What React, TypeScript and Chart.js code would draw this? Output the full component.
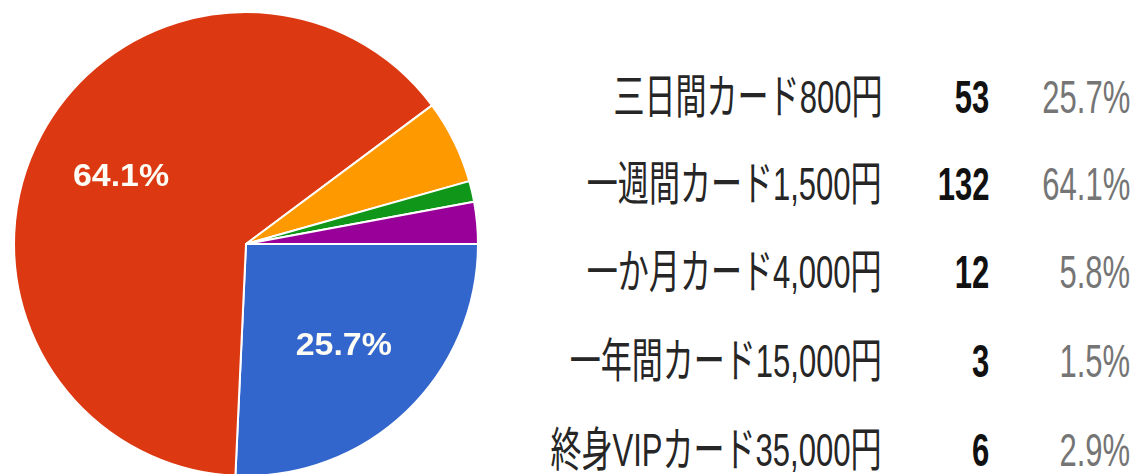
import React, { useEffect, useRef } from "react";
import { Chart, registerables } from "chart.js";

Chart.register(...registerables);

const LABELS = [
  "三日間カード800円",
  "一週間カード1,500円",
  "一か月カード4,000円",
  "一年間カード15,000円",
  "終身VIPカード35,000円",
];
const COUNTS = [53, 132, 12, 3, 6];
const PERCENT_LABELS = ["25.7%", "64.1%", "5.8%", "1.5%", "2.9%"];
const COLORS = ["#3366CC", "#DC3912", "#FF9900", "#109618", "#990099"];

const ROW_CENTERS = [97, 184, 272, 361, 450];

const sliceLabelPlugin = {
  id: "sliceLabels",
  afterDatasetsDraw(chart: any) {
    const ctx = chart.ctx;
    const meta = chart.getDatasetMeta(0);
    meta.data.forEach((arc: any, i: number) => {
      const p = parseFloat(PERCENT_LABELS[i]);
      if (p < 10) return;
      const mid = (arc.startAngle + arc.endAngle) / 2;
      const r = arc.outerRadius * 0.61;
      ctx.save();
      ctx.translate(arc.x + Math.cos(mid) * r, arc.y + Math.sin(mid) * r);
      ctx.scale(1.06, 1);
      ctx.fillStyle = "#fdfdf5";
      ctx.font = 'bold 32px "Liberation Sans", Arial, sans-serif';
      ctx.textAlign = "center";
      ctx.textBaseline = "middle";
      ctx.fillText(PERCENT_LABELS[i], 0, 0);
      ctx.restore();
    });
  },
};

export default function App() {
  const canvasRef = useRef<HTMLCanvasElement | null>(null);

  useEffect(() => {
    document.body.style.margin = "0";
    document.body.style.overflow = "hidden";
    const canvas = canvasRef.current;
    if (!canvas) return;
    const chart = new Chart(canvas, {
      type: "pie",
      data: {
        labels: LABELS,
        datasets: [
          {
            data: COUNTS,
            backgroundColor: COLORS,
            borderColor: "#ffffff",
            borderWidth: 2,
          },
        ],
      },
      options: {
        responsive: false,
        animation: false,
        rotation: 90,
        layout: { padding: { left: 13, right: 13, top: 11, bottom: 15 } },
        plugins: {
          legend: { display: false },
          tooltip: { enabled: false },
        },
      },
      plugins: [sliceLabelPlugin],
    });
    return () => chart.destroy();
  }, []);

  const font = '"Liberation Sans", Arial, "Noto Sans CJK JP", sans-serif';
  const cell = (text: string, right: number, top: number, style: React.CSSProperties) => (
    <span
      style={{
        position: "absolute",
        right: 1142 - right,
        top,
        height: 56,
        lineHeight: "56px",
        fontSize: 47,
        fontFamily: font,
        whiteSpace: "nowrap",
        transform: "scaleX(0.66)",
        transformOrigin: "right center",
        ...style,
      }}
    >
      {text}
    </span>
  );

  return (
    <div style={{ position: "relative", width: 1142, height: 474, overflow: "hidden", background: "#fff" }}>
      <canvas
        ref={canvasRef}
        width={492}
        height={492}
        style={{ position: "absolute", left: 0, top: 0, width: 492, height: 492 }}
      />
      {LABELS.map((label, i) => {
        const top = ROW_CENTERS[i] - 28;
        return (
          <React.Fragment key={label}>
            {cell(label, 882, top, { color: "#262626" })}
            {cell(String(COUNTS[i]), 989, top, { color: "#111111", fontWeight: "bold" })}
            {cell(PERCENT_LABELS[i], 1130, top, { color: "#757575" })}
          </React.Fragment>
        );
      })}
    </div>
  );
}
